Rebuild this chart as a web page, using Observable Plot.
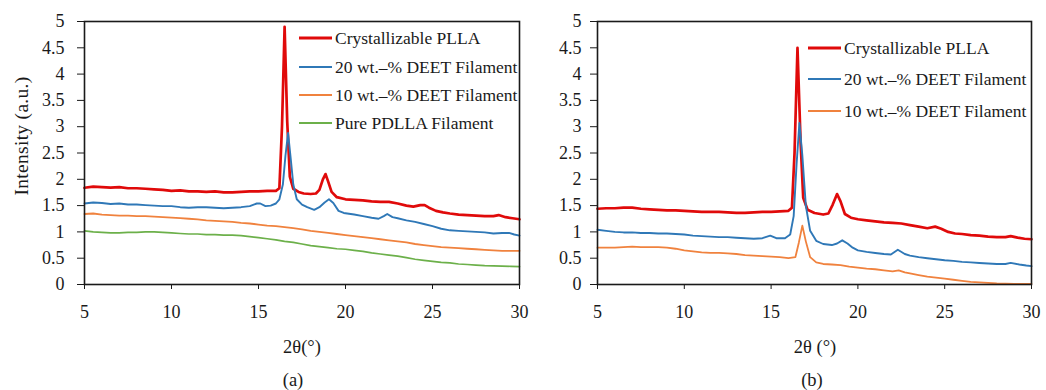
<!DOCTYPE html>
<html>
<head>
<meta charset="utf-8">
<script src="https://cdn.jsdelivr.net/npm/d3@7"></script>
<script src="https://cdn.jsdelivr.net/npm/@observablehq/plot@0.6"></script>
<style>
  html, body { margin: 0; padding: 0; background: #fff; }
  #wrap { position: relative; width: 1046px; height: 390px; overflow: hidden; background: #fff;
          font-family: 'Liberation Serif', 'DejaVu Serif', serif; color: #1a1a1a; }
  .panel { position: absolute; top: 0; }
  .lbl { position: absolute; transform: translate(-50%, -50%); white-space: nowrap; font-size: 18.5px; color: #1a1a1a; }
  #legend { position: absolute; left: 0; top: 0; pointer-events: none; }
</style>
</head>
<body>
<div id="wrap">
  <div id="pa" class="panel" style="left:0px"></div>
  <div id="pb" class="panel" style="left:540px"></div>
  <div class="lbl" style="left:22px; top:136px; transform: translate(-50%,-50%) rotate(-90deg); font-size:19.5px; letter-spacing:0.3px;">Intensity (a.u.)</div>
  <div class="lbl" style="left:302px; top:347px;">2θ(°)</div>
  <div class="lbl" style="left:293px; top:380px;">(a)</div>
  <div class="lbl" style="left:815px; top:347px;">2θ (°)</div>
  <div class="lbl" style="left:812px; top:380px;">(b)</div>
  <svg id="legend" width="1046" height="390"></svg>
</div>
<script>
// ---- Data ----
const xTicks = [5, 10, 15, 20, 25, 30];
const yTicks = [0, 0.5, 1, 1.5, 2, 2.5, 3, 3.5, 4, 4.5, 5];

const seriesNames = ["Crystallizable PLLA", "20 wt.–% DEET Filament", "10 wt.–% DEET Filament", "Pure PDLLA Filament"];
const seriesColors = ["#e00a0a", "#2f78b7", "#f0823e", "#6cb04a"];
const seriesWidths = [2.7, 1.9, 1.8, 1.7];

// Panel (a)
const a_plla = [[5,1.84],[5.5,1.86],[6,1.85],[6.5,1.84],[7,1.85],[7.5,1.83],[8,1.83],[8.5,1.82],[9,1.81],[9.5,1.80],[10,1.78],[10.5,1.79],[11,1.77],[11.5,1.77],[12,1.76],[12.5,1.77],[13,1.75],[13.5,1.75],[14,1.76],[14.5,1.77],[15,1.77],[15.5,1.78],[16,1.78],[16.2,1.83],[16.35,3.0],[16.5,4.9],[16.65,3.1],[16.8,2.05],[17.0,1.82],[17.3,1.76],[17.6,1.73],[18,1.72],[18.3,1.73],[18.5,1.8],[18.7,2.0],[18.85,2.1],[19.0,1.96],[19.2,1.76],[19.5,1.66],[20,1.62],[20.5,1.61],[21,1.60],[21.5,1.58],[22,1.57],[22.5,1.57],[23,1.54],[23.5,1.50],[23.9,1.48],[24.3,1.51],[24.55,1.51],[24.8,1.46],[25.2,1.40],[25.6,1.37],[26,1.35],[26.5,1.33],[27,1.32],[27.5,1.31],[28,1.30],[28.5,1.30],[28.8,1.32],[29.2,1.28],[29.6,1.26],[30,1.24]];
const a_d20 = [[5,1.54],[5.5,1.56],[6,1.55],[6.5,1.53],[7,1.54],[7.5,1.52],[8,1.52],[8.5,1.51],[9,1.50],[9.5,1.49],[10,1.49],[10.5,1.47],[11,1.46],[11.5,1.47],[12,1.47],[12.5,1.46],[13,1.45],[13.5,1.46],[14,1.47],[14.5,1.49],[14.9,1.54],[15.1,1.54],[15.4,1.49],[15.7,1.50],[16,1.54],[16.2,1.62],[16.4,1.9],[16.55,2.45],[16.7,2.88],[16.85,2.4],[17.0,1.9],[17.2,1.62],[17.5,1.52],[17.8,1.47],[18.2,1.42],[18.5,1.47],[18.8,1.56],[19.05,1.62],[19.3,1.55],[19.6,1.40],[19.9,1.36],[20.5,1.33],[21,1.30],[21.5,1.27],[21.9,1.25],[22.2,1.30],[22.4,1.34],[22.7,1.28],[23,1.26],[23.5,1.22],[24,1.19],[24.5,1.15],[25,1.11],[25.5,1.06],[26,1.03],[26.5,1.02],[27,1.01],[27.5,1.00],[28,0.99],[28.5,0.97],[29,0.98],[29.4,0.98],[29.7,0.95],[30,0.93]];
const a_d10 = [[5,1.34],[5.5,1.35],[6,1.33],[6.5,1.32],[7,1.31],[7.5,1.31],[8,1.30],[8.5,1.30],[9,1.29],[9.5,1.28],[10,1.27],[10.5,1.26],[11,1.25],[11.5,1.24],[12,1.22],[12.5,1.21],[13,1.20],[13.5,1.19],[14,1.17],[14.5,1.16],[15,1.14],[15.5,1.12],[16,1.11],[16.5,1.09],[17,1.07],[17.5,1.05],[18,1.02],[18.5,1.00],[19,0.98],[19.5,0.96],[20,0.94],[20.5,0.92],[21,0.90],[21.5,0.88],[22,0.86],[22.5,0.84],[23,0.82],[23.5,0.80],[24,0.77],[24.5,0.75],[25,0.73],[25.5,0.71],[26,0.70],[26.5,0.69],[27,0.68],[27.5,0.67],[28,0.66],[28.5,0.65],[29,0.64],[29.5,0.64],[30,0.64]];
const a_pdlla = [[5,1.02],[5.5,1.00],[6,0.99],[6.5,0.98],[7,0.98],[7.5,0.99],[8,0.99],[8.5,1.00],[9,1.00],[9.5,0.99],[10,0.98],[10.5,0.97],[11,0.96],[11.5,0.96],[12,0.95],[12.5,0.95],[13,0.94],[13.5,0.94],[14,0.93],[14.5,0.91],[15,0.89],[15.5,0.87],[16,0.85],[16.5,0.82],[17,0.80],[17.5,0.77],[18,0.74],[18.5,0.72],[19,0.70],[19.5,0.68],[20,0.67],[20.5,0.65],[21,0.63],[21.5,0.60],[22,0.58],[22.5,0.56],[23,0.54],[23.5,0.51],[24,0.48],[24.5,0.46],[25,0.44],[25.5,0.42],[26,0.41],[26.5,0.39],[27,0.38],[27.5,0.37],[28,0.36],[28.5,0.355],[29,0.35],[29.5,0.345],[30,0.34]];

// Panel (b)
const b_plla = [[5,1.44],[5.5,1.45],[6,1.45],[6.5,1.46],[7,1.46],[7.5,1.44],[8,1.43],[8.5,1.42],[9,1.41],[9.5,1.41],[10,1.40],[10.5,1.39],[11,1.38],[11.5,1.38],[12,1.38],[12.5,1.37],[13,1.36],[13.5,1.36],[14,1.37],[14.5,1.38],[15,1.38],[15.5,1.39],[16,1.40],[16.2,1.46],[16.35,2.5],[16.52,4.5],[16.7,2.7],[16.85,1.65],[17.1,1.42],[17.5,1.36],[18,1.33],[18.3,1.35],[18.55,1.52],[18.8,1.72],[19.0,1.58],[19.25,1.34],[19.6,1.27],[20,1.24],[20.5,1.22],[21,1.20],[21.5,1.18],[22,1.17],[22.5,1.16],[23,1.13],[23.5,1.10],[24,1.07],[24.45,1.10],[24.8,1.06],[25.2,1.00],[25.6,0.97],[26,0.96],[26.5,0.94],[27,0.93],[27.5,0.91],[28,0.90],[28.5,0.90],[28.8,0.92],[29.2,0.89],[29.6,0.87],[30,0.86]];
const b_d20 = [[5,1.04],[5.5,1.02],[6,1.00],[6.5,0.99],[7,0.99],[7.5,0.98],[8,0.98],[8.5,0.97],[9,0.97],[9.5,0.96],[10,0.95],[10.5,0.93],[11,0.92],[11.5,0.91],[12,0.90],[12.5,0.90],[13,0.89],[13.5,0.88],[14,0.87],[14.5,0.88],[14.95,0.93],[15.3,0.88],[15.8,0.88],[16.1,0.95],[16.3,1.3],[16.47,2.3],[16.63,3.07],[16.8,2.45],[17.0,1.5],[17.25,1.02],[17.6,0.83],[18,0.77],[18.5,0.75],[18.8,0.78],[19.1,0.84],[19.4,0.78],[19.7,0.70],[20,0.65],[20.5,0.62],[21,0.60],[21.5,0.58],[21.9,0.57],[22.3,0.66],[22.7,0.58],[23,0.55],[23.5,0.52],[24,0.50],[24.5,0.48],[25,0.46],[25.5,0.45],[26,0.43],[26.5,0.42],[27,0.41],[27.5,0.40],[28,0.39],[28.5,0.39],[28.8,0.41],[29.3,0.38],[29.7,0.36],[30,0.35]];
const b_d10 = [[5,0.70],[5.5,0.70],[6,0.70],[6.5,0.71],[7,0.72],[7.5,0.71],[8,0.71],[8.5,0.71],[9,0.70],[9.5,0.68],[10,0.65],[10.5,0.63],[11,0.61],[11.5,0.60],[12,0.60],[12.5,0.59],[13,0.58],[13.5,0.56],[14,0.55],[14.5,0.54],[15,0.53],[15.5,0.52],[16,0.50],[16.4,0.52],[16.6,0.80],[16.8,1.12],[17.0,0.82],[17.25,0.52],[17.6,0.42],[18,0.39],[18.5,0.38],[19,0.37],[19.5,0.34],[20,0.32],[20.5,0.30],[21,0.29],[21.5,0.27],[22,0.25],[22.35,0.27],[22.7,0.23],[23,0.21],[23.5,0.18],[24,0.15],[24.5,0.13],[25,0.11],[25.5,0.09],[26,0.07],[26.5,0.05],[27,0.04],[27.5,0.03],[28,0.02],[28.5,0.015],[29,0.01],[29.5,0.01],[30,0.01]];

// ---- Drawing ----
const fontFamily = "'Liberation Serif', 'DejaVu Serif', serif";

function panel(seriesList, {width, marginLeft, marginRight, marginTop, tickPaddingY}) {
  return Plot.plot({
    width, height: 390,
    marginLeft, marginRight, marginTop, marginBottom: 106,
    style: {fontFamily, fontSize: "18px", color: "#1a1a1a", background: "transparent", overflow: "visible"},
    x: {domain: [5, 30], ticks: xTicks, tickSize: 5, tickPadding: 16, tickFormat: d => String(d), label: null},
    y: {domain: [0, 5], ticks: yTicks, tickSize: 7, tickPadding: tickPaddingY, tickFormat: d => String(d), label: null},
    marks: [
      ...seriesList.map((data, i) => Plot.line(data, {
        x: d => d[0], y: d => d[1],
        stroke: seriesColors[i], strokeWidth: seriesWidths[i], strokeLinejoin: "round"
      })),
      Plot.frame({stroke: "#1a1a1a", strokeWidth: 1.6})
    ]
  });
}

document.getElementById("pa").append(panel([a_plla, a_d20, a_d10, a_pdlla],
  {width: 540, marginLeft: 84, marginRight: 21, marginTop: 21, tickPaddingY: 13}));
document.getElementById("pb").append(panel([b_plla, b_d20, b_d10],
  {width: 506, marginLeft: 57, marginRight: 15, marginTop: 21, tickPaddingY: 9}));

// Legends
const legendSvg = d3.select("#legend");
function legend(x0, ys, n) {
  const g = legendSvg.append("g");
  for (let i = 0; i < n; i++) {
    g.append("line").attr("x1", x0).attr("x2", x0 + 33).attr("y1", ys[i]).attr("y2", ys[i])
      .attr("stroke", seriesColors[i]).attr("stroke-width", i === 0 ? 3.2 : 2.2);
    g.append("text").attr("x", x0 + 36).attr("y", ys[i]).attr("dy", "0.33em")
      .attr("font-family", fontFamily).attr("font-size", "17.5px").attr("fill", "#1a1a1a")
      .text(seriesNames[i]);
  }
}
legend(299, [38, 67, 95, 123], 4);
legend(808, [48, 79, 111], 3);
</script>
</body>
</html>
